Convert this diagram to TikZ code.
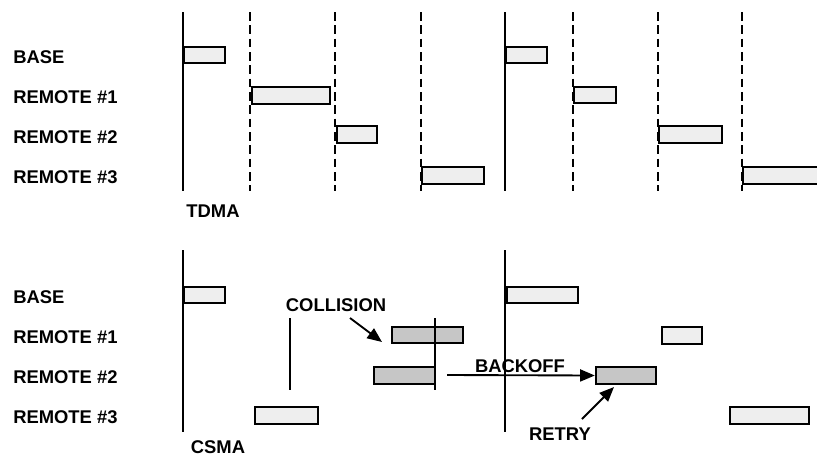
\documentclass[tikz,border=0pt]{standalone}
\usepackage{fontspec}
\setmainfont{Liberation Sans}
\usetikzlibrary{fit,arrows.meta}
\begin{document}
\begin{tikzpicture}[x=0.75pt,y=-0.75pt,
  lbl/.style={anchor=west,inner sep=0pt,font=\fontsize{13.8}{16}\selectfont\bfseries},
  ttl/.style={anchor=center,inner sep=0pt,font=\fontsize{13.8}{16}\selectfont\bfseries},
  lbox/.style={draw=black,line width=1.8pt,fill=gray!13,inner sep=0pt},
  dbox/.style={draw=black,line width=1.8pt,fill=gray!45,inner sep=0pt},
  solidln/.style={line width=1.7pt},
  dashln/.style={line width=1.7pt,dash pattern=on 6.5pt off 3.5pt},
  thinln/.style={line width=1.2pt},
  arr/.style={line width=1.4pt,-{Triangle[length=11pt,width=9pt]}}]
\useasboundingbox (0,0) rectangle (817,458);
% ---------- TDMA ----------
\node[lbl] (tb)  at (13,57)  {BASE};
\node[lbl] (tr1) at (13,97)  {REMOTE \#1};
\node[lbl] (tr2) at (13,137) {REMOTE \#2};
\node[lbl] (tr3) at (13,177) {REMOTE \#3};
\node[ttl] (tdma) at (213,211) {TDMA};
\draw[solidln] (183,12) -- (183,191);
\draw[dashln] (250,12) -- (250,191);
\draw[dashln] (335,12) -- (335,191);
\draw[dashln] (421,12) -- (421,191);
\draw[solidln] (505,12) -- (505,191);
\draw[dashln] (573,12) -- (573,191);
\draw[dashln] (658,12) -- (658,191);
\draw[dashln] (742,12) -- (742,191);
\node[lbox,fit={(184,47)(225,63)}] (tb1) {};
\node[lbox,fit={(252,87)(330,104)}] (t11) {};
\node[lbox,fit={(337,126)(377,143)}] (t21) {};
\node[lbox,fit={(422,167)(484,184)}] (t31) {};
\node[lbox,fit={(506,47)(547,63)}] (tb2) {};
\node[lbox,fit={(574,87)(616,103)}] (t12) {};
\node[lbox,fit={(659,126)(722,143)}] (t22) {};
\node[lbox,fit={(743,167)(830,184)}] (t32) {};
% ---------- CSMA ----------
\node[lbl] (cb)  at (13,297) {BASE};
\node[lbl] (cr1) at (13,337) {REMOTE \#1};
\node[lbl] (cr2) at (13,377) {REMOTE \#2};
\node[lbl] (cr3) at (13,417) {REMOTE \#3};
\node[ttl] (csma) at (218,447) {CSMA};
\draw[solidln] (183,250) -- (183,432);
\draw[solidln] (505,250) -- (505,432);
\draw[thinln] (290,318) -- (290,390);
\node[lbox,fit={(184,287)(225,303)}] (cb1) {};
\node[lbox,fit={(507,287)(578,303)}] (cb2) {};
\node[lbox,fit={(255,407)(318,424)}] (c31) {};
\node[dbox,fit={(392,327)(463,343)}] (c11) {};
\node[dbox,fit={(374,367)(435,384)}] (c21) {};
\draw[thinln] (435,318) -- (435,390);
\node[dbox,fit={(596,367)(656,384)}] (retry) {};
\node[lbox,fit={(662,327)(702,344)}] (c12) {};
\node[lbox,fit={(730,407)(809,424)}] (c32) {};
\node[ttl] (coll) at (336,305) {COLLISION};
\node[ttl] (back) at (520,366) {BACKOFF};
\node[ttl] (rtry) at (560,434) {RETRY};
\coordinate (cs) at (350,318);
\coordinate (ce) at (382,342);
\draw[arr] (cs) -- (ce);
\coordinate (bs) at (447,375);
\draw[arr] (bs) -- (retry.west);
\coordinate (rs) at (582,419);
\coordinate (re) at (614,387);
\draw[arr] (rs) -- (re);
\end{tikzpicture}
\end{document}
